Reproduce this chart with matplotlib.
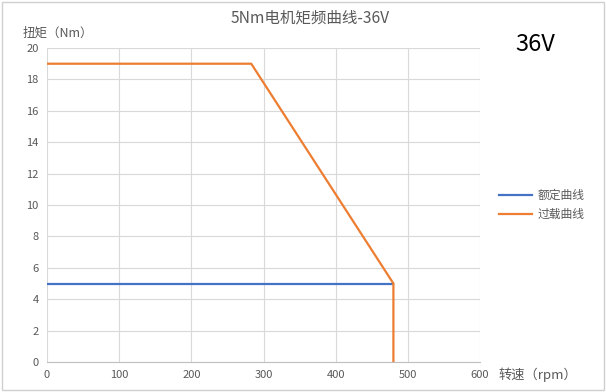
import matplotlib
matplotlib.use('Agg')
import matplotlib.pyplot as plt
from matplotlib.patches import Rectangle

plt.rcParams['font.family'] = ['Noto Sans CJK SC', 'DejaVu Sans']

# rated curve
rated_x = [0, 480]
rated_y = [5, 5]
# overload curve
over_x = [0, 283, 480, 480]
over_y = [19, 19, 5, 0]

x_ticks = [0, 100, 200, 300, 400, 500, 600]
y_ticks = [0, 2, 4, 6, 8, 10, 12, 14, 16, 18, 20]

grey = '#595959'

fig = plt.figure(figsize=(6.06, 3.92), dpi=100)
ax = fig.add_axes([0.0776, 0.0765, 0.7145, 0.8010])

ax.plot(rated_x, rated_y, color='#4472C4', lw=1.6, label='额定曲线')
ax.plot(over_x, over_y, color='#ED7D31', lw=1.6, label='过载曲线')

ax.set_xlim(0, 600)
ax.set_ylim(0, 20)
ax.set_xticks(x_ticks)
ax.set_yticks(y_ticks)
ax.grid(True, color='#d9d9d9', lw=0.8)
ax.set_axisbelow(True)
for s in ['top', 'right', 'left']:
    ax.spines[s].set_visible(False)
ax.spines['bottom'].set_color('#bfbfbf')
ax.tick_params(length=0, labelsize=8, colors=grey, pad=6)

fig.text(0.512, 0.953, '5Nm电机矩频曲线-36V', ha='center', va='center',
         fontsize=11.2, color=grey)
fig.text(0.038, 0.915, '扭矩（Nm）', ha='left', va='center', fontsize=9, color=grey)
fig.text(0.822, 0.044, '转速（rpm）', ha='left', va='center', fontsize=9.5, color=grey)
fig.text(0.884, 0.887, '36V', ha='center', va='center', fontsize=17, color='black')

ax.legend(loc='center left', bbox_to_anchor=(1.02, 0.5), frameon=False,
          fontsize=8.5, labelcolor=grey, handlelength=2.8, handletextpad=0.4)

fig.patches.append(Rectangle((0.003, 0.004), 0.993, 0.99, transform=fig.transFigure,
                             fill=False, edgecolor='#d0d0d0', lw=1))

fig.savefig('out.png', dpi=100)
